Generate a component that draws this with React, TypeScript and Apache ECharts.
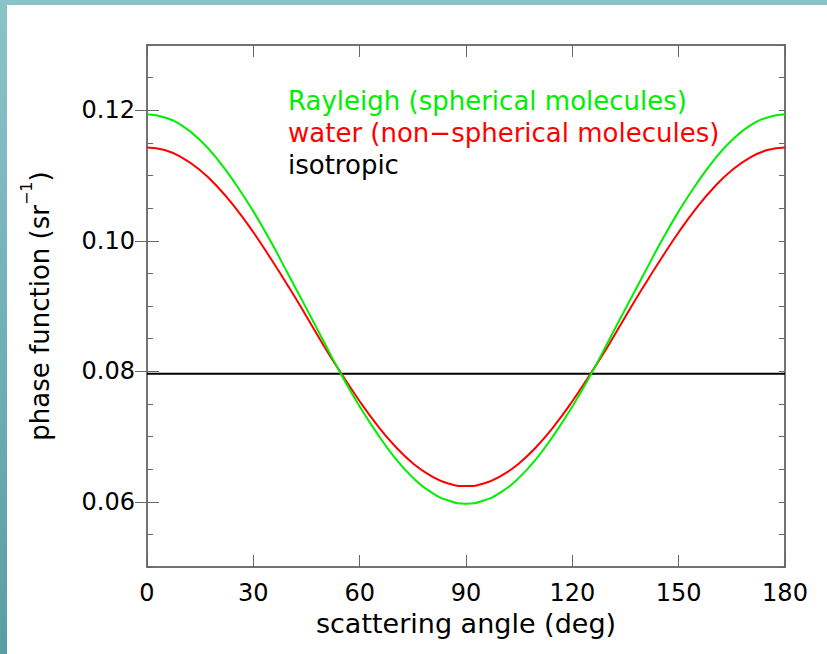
import React, { useEffect, useRef } from "react";
import * as echarts from "echarts";

// Scattering angle samples (deg)
const angles = [
  0, 5, 10, 15, 20, 25, 30, 35, 40, 45, 50, 55, 60, 65, 70, 75, 80, 85, 90,
  95, 100, 105, 110, 115, 120, 125, 130, 135, 140, 145, 150, 155, 160, 165, 170, 175, 180,
];

// Rayleigh phase function, spherical molecules (sr^-1)
const rayleigh = [
  0.1194, 0.1189, 0.1176, 0.1154, 0.1124, 0.1087, 0.1045, 0.0998, 0.0947, 0.0896,
  0.0844, 0.0793, 0.0746, 0.0704, 0.0667, 0.0637, 0.0615, 0.0602, 0.0597,
  0.0602, 0.0615, 0.0637, 0.0667, 0.0704, 0.0746, 0.0793, 0.0844, 0.0896, 0.0947,
  0.0998, 0.1045, 0.1087, 0.1124, 0.1154, 0.1176, 0.1189, 0.1194,
];

// Water, non-spherical molecules (sr^-1)
const water = [
  0.1143, 0.1139, 0.1127, 0.1108, 0.1082, 0.1050, 0.1013, 0.0972, 0.0929, 0.0884,
  0.0838, 0.0795, 0.0754, 0.0717, 0.0685, 0.0659, 0.0640, 0.0628, 0.0624,
  0.0628, 0.0640, 0.0659, 0.0685, 0.0717, 0.0754, 0.0795, 0.0838, 0.0884, 0.0929,
  0.0972, 0.1013, 0.1050, 0.1082, 0.1108, 0.1127, 0.1139, 0.1143,
];

// Isotropic phase function, constant over angle
const isotropicAngles = [0, 180];
const isotropic = [0.0796, 0.0796];

const yMajorTicks = [0.06, 0.08, 0.1, 0.12];
const xTicks = [0, 30, 60, 90, 120, 150, 180];

const legendLines = [
  { text: "Rayleigh (spherical molecules)", color: "#00ee00" },
  { text: "water (non\u2212spherical molecules)", color: "#ff0000" },
  { text: "isotropic", color: "#000000" },
];

const FONT = "DejaVu Sans";
const AXIS_COLOR = "#444";
const TICK_COLOR = "#666";

export default function App() {
  const ref = useRef<HTMLDivElement>(null);

  useEffect(() => {
    if (!ref.current) return;
    const chart = echarts.init(ref.current, undefined, { renderer: "svg" });

    const yBase = { type: "value", min: 0.05, max: 0.13, gridIndex: 0, splitLine: { show: false } };
    const minorAxis = (position: string) => ({
      ...yBase,
      position,
      interval: 0.005,
      axisLine: { show: true, onZero: false, lineStyle: { color: AXIS_COLOR, width: 1.5 } },
      axisTick: { show: true, inside: true, length: 6, lineStyle: { color: TICK_COLOR } },
      axisLabel: { show: false },
    });
    const majorAxis = (position: string, labels: boolean) => ({
      ...yBase,
      position,
      axisLine: { show: false },
      axisTick: {
        show: true,
        inside: true,
        length: 12,
        customValues: yMajorTicks,
        lineStyle: { color: TICK_COLOR },
      },
      axisLabel: labels
        ? {
            show: true,
            customValues: yMajorTicks,
            margin: 12,
            fontFamily: FONT,
            fontSize: 24,
            color: "#000",
            formatter: (v: number) => v.toFixed(2),
          }
        : { show: false },
    });

    const xAxisCfg = (position: string, labels: boolean) => ({
      type: "value",
      min: 0,
      max: 180,
      interval: 30,
      position,
      gridIndex: 0,
      splitLine: { show: false },
      axisLine: { show: true, onZero: false, lineStyle: { color: AXIS_COLOR, width: 1.5 } },
      axisTick: { show: true, inside: true, length: 12, lineStyle: { color: TICK_COLOR } },
      axisLabel: labels
        ? {
            show: true,
            margin: 14,
            fontFamily: FONT,
            fontSize: 24,
            color: "#000",
            formatter: (v: number) => (xTicks.includes(v) ? String(v) : ""),
          }
        : { show: false },
    });

    const option: any = {
      animation: false,
      backgroundColor: "#ffffff",
      grid: { left: 147, top: 45, width: 638, height: 522, containLabel: false },
      xAxis: [
        {
          ...xAxisCfg("bottom", true),
          name: "scattering angle (deg)",
          nameLocation: "middle",
          nameGap: 43,
          nameTextStyle: { fontFamily: FONT, fontSize: 27, color: "#000" },
        },
        xAxisCfg("top", false),
      ],
      yAxis: [
        minorAxis("left"),
        {
          ...majorAxis("left", true),
          name: "{a|phase function (sr}{s|\u22121}{a|)}",
          nameLocation: "middle",
          nameRotate: 90,
          nameGap: 85,
          nameTextStyle: {
            rich: {
              a: { fontFamily: FONT, fontSize: 26, color: "#000", lineHeight: 44, verticalAlign: "middle" },
              s: { fontFamily: FONT, fontSize: 16, color: "#000", lineHeight: 16, verticalAlign: "top" },
            },
          },
        },
        minorAxis("right"),
        majorAxis("right", false),
      ],
      series: [
        {
          name: "isotropic",
          type: "line",
          xAxisIndex: 0,
          yAxisIndex: 1,
          data: isotropicAngles.map((a, i) => [a, isotropic[i]]),
          showSymbol: false,
          lineStyle: { color: "#000", width: 2 },
        },
        {
          name: "water",
          type: "line",
          xAxisIndex: 0,
          yAxisIndex: 1,
          data: angles.map((a, i) => [a, water[i]]),
          showSymbol: false,
          smooth: true,
          lineStyle: { color: "#ff0000", width: 2 },
        },
        {
          name: "Rayleigh",
          type: "line",
          xAxisIndex: 0,
          yAxisIndex: 1,
          data: angles.map((a, i) => [a, rayleigh[i]]),
          showSymbol: false,
          smooth: true,
          lineStyle: { color: "#00ee00", width: 2 },
        },
      ],
      graphic: [
        // teal frame along the top and left edges
        {
          type: "rect",
          shape: { x: 0, y: 0, width: 827, height: 5 },
          style: { fill: "#8ac4c9" },
          silent: true,
        },
        {
          type: "rect",
          shape: { x: 0, y: 0, width: 7, height: 654 },
          style: {
            fill: new echarts.graphic.LinearGradient(0, 0, 0, 1, [
              { offset: 0, color: "#8ac4c9" },
              { offset: 1, color: "#5a9da3" },
            ]),
          },
          silent: true,
        },
        ...legendLines.map((l, i) => ({
          type: "text",
          left: 288,
          top: 88 + i * 32,
          style: { text: l.text, fill: l.color, fontFamily: FONT, fontSize: 26 },
          silent: true,
        })),
      ],
    };

    chart.setOption(option);
    return () => chart.dispose();
  }, []);

  return (
    <div
      ref={ref}
      style={{ position: "absolute", left: 0, top: 0, width: 827, height: 654 }}
    />
  );
}
